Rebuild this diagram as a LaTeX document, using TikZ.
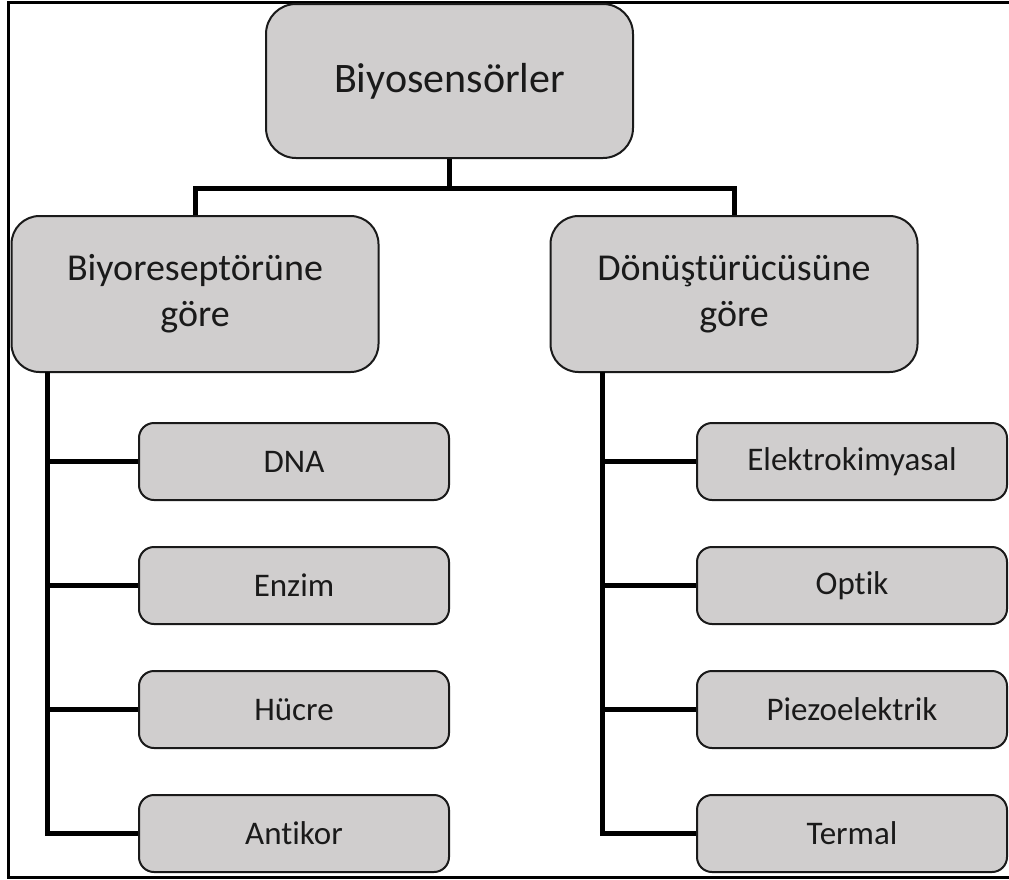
\documentclass[tikz,border=0pt]{standalone}
\usepackage{fontspec}
\setmainfont{Carlito}[Ligatures={NoCommon,NoRequired,NoContextual}]
\definecolor{boxfill}{RGB}{208,206,206}
\definecolor{ink}{RGB}{26,26,26}
\begin{document}
\begin{tikzpicture}[x=1pt,y=-1pt,
  box/.style={draw=ink, line width=2pt, fill=boxfill, text=ink, inner sep=0pt, align=center},
  rootbox/.style={box, rounded corners=30pt, minimum width=367pt, minimum height=154pt,
    font=\fontsize{42}{50}\selectfont},
  groupbox/.style={box, rounded corners=28pt, minimum width=367pt, minimum height=156pt,
    font=\fontsize{38}{46}\selectfont},
  leafbox/.style={box, rounded corners=15pt, minimum width=310pt, minimum height=77pt,
    font=\fontsize{33}{40}\selectfont},
  conn/.style={draw=black, line width=5pt},
  frame/.style={draw=black, line width=3pt}]

\useasboundingbox (0,0) rectangle (1009,879);

% frame on three sides
\draw[frame] (1009,2) -- (8,2) -- (8,877) -- (1009,877);

% root and the two groups
\node[rootbox]  (root) at (449.5,81) {Biyosensörler};
\node[groupbox] (bio)  at (195,294)  {Biyoreseptörüne\\göre};
\node[groupbox] (trd)  at (734,294)  {Dönüştürücüsüne\\göre};

% receptor types
\node[leafbox] (dna)  at (294,461.5) {DNA};
\node[leafbox] (enz)  at (294,585.5) {Enzim};
\node[leafbox] (cell) at (294,709.5) {Hücre};
\node[leafbox] (ab)   at (294,833.5) {Antikor};

% transducer types
\node[leafbox] (ec)   at (852,461.5) {Elektrokimyasal};
\node[leafbox] (opt)  at (852,585.5) {Optik};
\node[leafbox] (pz)   at (852,709.5) {Piezoelektrik};
\node[leafbox] (th)   at (852,833.5) {Termal};

% root to groups
\coordinate (split) at (449.5,188);
\draw[conn] (root.south) -- (split);
\draw[conn] (split) -| (bio.north);
\draw[conn] (split) -| (trd.north);

% left trunk
\coordinate (lt) at (47,372);
\draw[conn] (lt) |- (ab.west);
\draw[conn] (lt |- dna.west)  -- (dna.west);
\draw[conn] (lt |- enz.west)  -- (enz.west);
\draw[conn] (lt |- cell.west) -- (cell.west);

% right trunk
\coordinate (rt) at (602,372);
\draw[conn] (rt) |- (th.west);
\draw[conn] (rt |- ec.west)  -- (ec.west);
\draw[conn] (rt |- opt.west) -- (opt.west);
\draw[conn] (rt |- pz.west)  -- (pz.west);

\end{tikzpicture}
\end{document}
